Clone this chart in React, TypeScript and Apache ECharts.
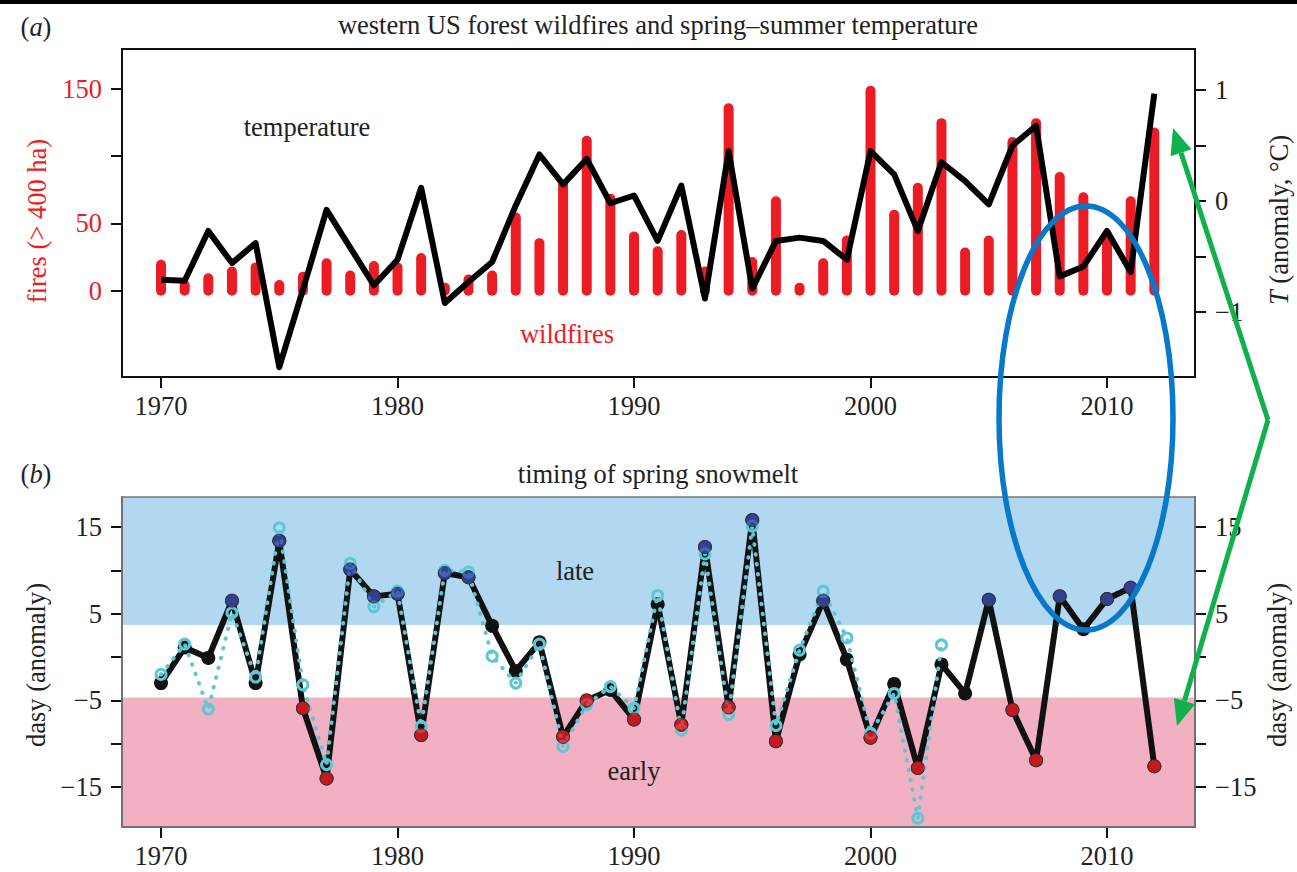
import React, { useEffect, useRef } from 'react';
import * as echarts from 'echarts';

const years = [1970, 1971, 1972, 1973, 1974, 1975, 1976, 1977, 1978, 1979, 1980, 1981, 1982, 1983, 1984, 1985, 1986, 1987, 1988, 1989, 1990, 1991, 1992, 1993, 1994, 1995, 1996, 1997, 1998, 1999, 2000, 2001, 2002, 2003, 2004, 2005, 2006, 2007, 2008, 2009, 2010, 2011, 2012];

const fires = [23, 8, 13, 18, 21, 8, 14, 24, 15, 22, 21, 28, 6, 12, 15, 58, 39, 82, 115, 72, 44, 33, 45, 18, 139, 25, 70, 6, 24, 41, 152, 60, 80, 128, 32, 41, 114, 128, 88, 73, 45, 70, 121];

const temperature = [-0.71, -0.72, -0.27, -0.56, -0.38, -1.5, -0.8, -0.08, -0.42, -0.76, -0.53, 0.12, -0.92, -0.73, -0.55, -0.04, 0.42, 0.15, 0.38, -0.02, 0.05, -0.36, 0.14, -0.88, 0.45, -0.79, -0.36, -0.33, -0.36, -0.53, 0.45, 0.24, -0.27, 0.35, 0.18, -0.03, 0.5, 0.68, -0.68, -0.59, -0.27, -0.64, 0.97];

const snowmelt = [-3.0, 1.1, -0.1, 6.5, -3.0, 13.4, -5.9, -14.0, 10.1, 7.0, 7.3, -9.0, 9.7, 9.2, 3.6, -1.6, 1.7, -9.2, -5.0, -3.8, -7.2, 6.1, -7.8, 12.7, -5.8, 15.8, -9.7, 0.3, 6.5, -0.3, -9.3, -3.1, -12.8, -0.85, -4.2, 6.6, -6.1, -11.9, 7.0, 3.2, 6.7, 8.0, -12.6];

// second snowmelt record (ends 2003)
const snowmeltAlt = [-2.0, 1.5, -6.0, 5.1, -2.3, 14.9, -3.2, -12.4, 10.8, 5.8, 7.6, -8.0, 10.0, 9.8, 0.1, -3.0, 1.5, -10.3, -5.5, -3.4, -5.9, 7.1, -8.4, 11.9, -6.6, 15.1, -7.9, 0.8, 7.6, 2.2, -8.8, -4.2, -18.6, 1.4];

// dot class per year: b = late (blue), r = early (red), k = neither
const dotClass = ['k', 'k', 'k', 'b', 'k', 'b', 'r', 'r', 'b', 'b', 'b', 'r', 'b', 'b', 'k', 'k', 'k', 'r', 'r', 'k', 'r', 'k', 'r', 'b', 'r', 'b', 'r', 'k', 'b', 'k', 'r', 'k', 'r', 'k', 'k', 'b', 'r', 'r', 'b', 'k', 'b', 'b', 'r'];

const yearTicks = [1970, 1980, 1990, 2000, 2010];
const fireTicks = [0, 50, 100, 150];
const fireLabels = [0, 50, 150];
const tempTicks = [-1, -0.5, 0, 0.5, 1];
const tempLabels = [-1, 0, 1];
const dayTicks = [-15, -10, -5, 0, 5, 10, 15];
const dayLabels = [-15, -5, 5, 15];
// shaded bands (late above, early below)
const bands = [[3.7, 18.46], [-19.6, -4.65]];

const F = '"Liberation Serif", "Times New Roman", serif';
const FS = 26.5;
const RED = '#ec1c24';
const CYAN = '#5cc8d6';
const BLUE_DOT = '#3a4eb0';
const RED_DOT = '#f01d24';
const BAND_COLORS = ['#b2d8f1', '#f2b0c3'];

const XMIN = 1968.35;
const XMAX = 2013.72;

const minus = (v: number) => String(v).replace('-', '\u2212');

function xAxis(gridIndex: number, lineColor: string) {
  return {
    type: 'value',
    gridIndex,
    min: XMIN,
    max: XMAX,
    axisLine: { show: true, onZero: false, lineStyle: { color: lineColor, width: 2 } },
    axisTick: { show: true, length: 11, customValues: yearTicks, lineStyle: { color: '#111', width: 2 } },
    axisLabel: { customValues: yearTicks, fontFamily: F, fontSize: FS, color: '#222', margin: 15, formatter: (v: number) => String(v) },
    splitLine: { show: false },
  };
}

function yAxis(gridIndex: number, position: string, min: number, max: number, ticks: number[], labels: number[], color: string, lineColor: string) {
  return {
    type: 'value',
    gridIndex,
    position,
    min,
    max,
    axisLine: { show: true, onZero: false, lineStyle: { color: lineColor, width: 2 } },
    axisTick: { show: true, length: 11, customValues: ticks, lineStyle: { color: '#111', width: 2 } },
    axisLabel: { customValues: labels, fontFamily: F, fontSize: FS, color, margin: 20, formatter: (v: number) => minus(v) },
    splitLine: { show: false },
  };
}

function arrow(x1: number, y1: number, x2: number, y2: number, color: string) {
  const dx = x2 - x1;
  const dy = y2 - y1;
  const len = Math.sqrt(dx * dx + dy * dy);
  const ux = dx / len;
  const uy = dy / len;
  const L = 26;
  const W = 11;
  const bx = x2 - ux * L;
  const by = y2 - uy * L;
  const nx = -uy;
  const ny = ux;
  return [
    { type: 'line', z: 100, shape: { x1, y1, x2: bx, y2: by }, style: { stroke: color, lineWidth: 5 } },
    {
      type: 'polygon', z: 100,
      shape: { points: [[x2, y2], [bx + nx * W, by + ny * W], [bx - nx * W, by - ny * W]] },
      style: { fill: color },
    },
  ];
}

function text(x: number, y: number, str: string, color: string, extra: any = {}) {
  return {
    type: 'text', z: 100, x, y, ...extra,
    style: {
      text: str, fill: color, fontFamily: F, fontSize: FS, align: 'center', verticalAlign: 'middle',
      rich: { i: { fontStyle: 'italic', fontFamily: F, fontSize: FS, fill: color } },
    },
  };
}

export default function App() {
  const ref = useRef<HTMLDivElement>(null);
  useEffect(() => {
    const chart = echarts.init(ref.current!, null, { renderer: 'svg' });
    const GREEN = '#10b04c';
    const option: any = {
      animation: false,
      backgroundColor: '#fff',
      grid: [
        { left: 122, top: 49, width: 1073, height: 328, show: true, borderColor: '#111', borderWidth: 2, backgroundColor: 'transparent' },
        { left: 122, top: 497, width: 1073, height: 330, show: false },
      ],
      xAxis: [xAxis(0, '#111'), xAxis(1, '#666')],
      yAxis: [
        yAxis(0, 'left', -64, 179.3, fireTicks, fireLabels, RED, '#111'),
        yAxis(0, 'right', -1.588, 1.372, tempTicks, tempLabels, '#222', '#111'),
        yAxis(1, 'left', -19.6, 18.46, dayTicks, dayLabels, '#222', '#666'),
        yAxis(1, 'right', -19.6, 18.46, dayTicks, dayLabels, '#222', '#666'),
      ],
      series: [
        {
          type: 'custom', name: 'wildfires', xAxisIndex: 0, yAxisIndex: 0, z: 1,
          data: years.map((y, i) => [y, fires[i]]),
          renderItem: (params: any, api: any) => {
            const top = api.coord([api.value(0), api.value(1)]);
            const base = api.coord([api.value(0), 0]);
            return {
              type: 'rect',
              shape: { x: top[0] - 5, y: top[1], width: 10, height: base[1] - top[1] + 5, r: 5 },
              style: { fill: RED },
            };
          },
        },
        {
          type: 'line', name: 'temperature', xAxisIndex: 0, yAxisIndex: 1, z: 3,
          data: years.map((y, i) => [y, temperature[i]]),
          symbol: 'none',
          lineStyle: { color: '#000', width: 6, join: 'round' },
        },
        {
          type: 'custom', name: 'bands', xAxisIndex: 1, yAxisIndex: 2, z: 0, silent: true,
          data: bands,
          renderItem: (params: any, api: any) => {
            const cs = params.coordSys;
            const p1 = api.coord([XMIN, api.value(1)]);
            const p2 = api.coord([XMIN, api.value(0)]);
            const y1 = Math.max(cs.y, p1[1]);
            const y2 = Math.min(cs.y + cs.height, p2[1]);
            return {
              type: 'rect',
              shape: { x: cs.x, y: y1, width: cs.width, height: y2 - y1 },
              style: { fill: BAND_COLORS[params.dataIndex] },
            };
          },
        },
        {
          type: 'line', name: 'snowmelt', xAxisIndex: 1, yAxisIndex: 2, z: 3,
          data: years.map((y, i) => [y, snowmelt[i]]),
          symbol: 'circle', symbolSize: 14,
          itemStyle: { color: '#111' },
          lineStyle: { color: '#111', width: 6, join: 'round' },
        },
        {
          type: 'line', name: 'snowmelt2', xAxisIndex: 1, yAxisIndex: 2, z: 4,
          data: snowmeltAlt.map((v, i) => [years[i], v]),
          symbol: 'circle', symbolSize: 10,
          itemStyle: { color: 'rgba(0,0,0,0)', borderColor: CYAN, borderWidth: 3 },
          lineStyle: { color: CYAN, width: 4, type: [0.5, 9.5], cap: 'round' },
        },
        {
          type: 'scatter', name: 'class', xAxisIndex: 1, yAxisIndex: 2, z: 5,
          data: years.map((y, i) => ({ value: [y, snowmelt[i]], cls: dotClass[i] }))
            .filter((d) => d.cls !== 'k')
            .map((d) => ({ value: d.value, itemStyle: { color: d.cls === 'b' ? BLUE_DOT : RED_DOT } })),
          symbol: 'circle', symbolSize: 13,
          itemStyle: { borderColor: '#333', borderWidth: 1 },
        },
      ],
      graphic: [
        { type: 'rect', z: 100, shape: { x: 0, y: 0, width: 1297, height: 4 }, style: { fill: '#000' } },
        { type: 'rect', z: 90, shape: { x: 122, y: 497, width: 1073, height: 330 }, style: { fill: 'transparent', stroke: '#777', lineWidth: 1.5 } },
        text(36, 27, '({i|a})', '#222'),
        text(658, 25, 'western US forest wildfires and spring\u2013summer temperature', '#222'),
        text(36, 474, '({i|b})', '#222'),
        text(658, 474, 'timing of spring snowmelt', '#222'),
        text(307, 127, 'temperature', '#222'),
        text(567, 334, 'wildfires', RED),
        text(575, 571, 'late', '#222'),
        text(634, 771, 'early', '#222'),
        text(37, 221, 'fires (> 400 ha)', RED, { rotation: Math.PI / 2 }),
        text(1279, 220, '{i|T} (anomaly, \u00b0C)', '#222', { rotation: Math.PI / 2 }),
        text(36, 665, 'dasy (anomaly)', '#222', { rotation: Math.PI / 2 }),
        text(1277, 665, 'dasy (anomaly)', '#222', { rotation: Math.PI / 2 }),
        { type: 'ellipse', z: 100, shape: { cx: 1086, cy: 418, rx: 87, ry: 212 }, style: { fill: 'transparent', stroke: '#0878c8', lineWidth: 5.5 } },
        ...arrow(1268, 420, 1173, 128, GREEN),
        ...arrow(1268, 420, 1177, 726, GREEN),
      ],
    };
    chart.setOption(option);
    return () => chart.dispose();
  }, []);
  return <div ref={ref} style={{ position: 'fixed', left: 0, top: 0, width: 1297, height: 872, background: '#fff' }} />;
}
